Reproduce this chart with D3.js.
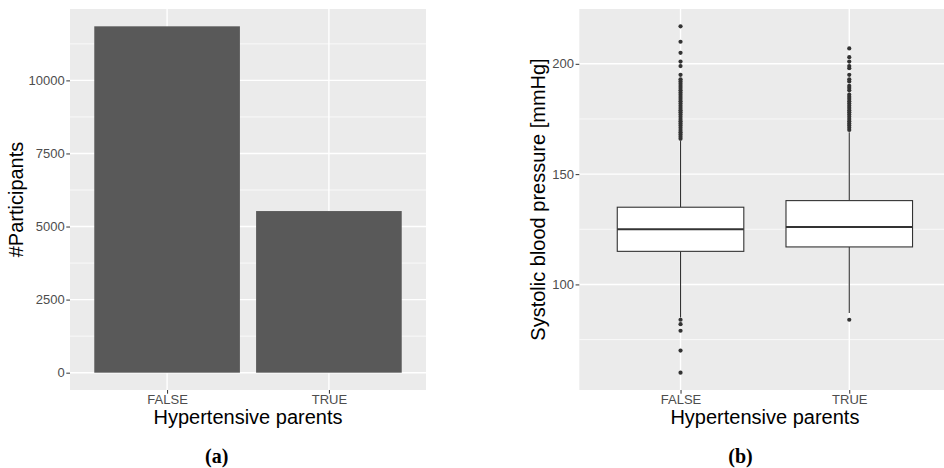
<!DOCTYPE html>
<html>
<head>
<meta charset="utf-8">
<script src="https://cdn.jsdelivr.net/npm/d3@7"></script>
<style>
  body { margin: 0; background: #fff; }
  svg { display: block; }
</style>
</head>
<body>
<svg id="fig" width="944" height="468"></svg>
<script>
// ---- data ----
const categories = ["FALSE", "TRUE"];
const participantCounts = [11850, 5530];
const countTicks = [0, 2500, 5000, 7500, 10000];

// box summaries: [lower whisker, Q1, median, Q3, upper whisker]
const boxFalse = [85, 115, 125, 135, 165];
const boxTrue = [87, 117, 126, 138, 169];
const outliersFalse = [60, 70, 79, 82, 84,
  166, 167, 168, 169, 170, 171, 172, 173, 174, 175, 176, 177, 178, 179, 180,
  181, 182, 183, 184, 185, 186, 187, 188, 189, 190, 191, 192, 193,
  195, 199, 201, 205, 210, 217];
const outliersTrue = [84,
  170, 171, 172, 173, 174, 175, 176, 177, 178, 179, 180, 181, 182, 183, 184,
  185, 186, 188, 189, 190, 192, 193, 195, 198, 199, 201, 203, 207];
const pressureTicks = [100, 150, 200];

const xTitle = "Hypertensive parents";

// ---- helpers ----
const svg = d3.select("#fig");
const FONT = "'Liberation Sans', Arial, Helvetica, sans-serif";
const expand = ([lo, hi]) => [lo - 0.05 * (hi - lo), hi + 0.05 * (hi - lo)];
const midpoints = t => t.slice(0, -1).map((v, i) => (v + t[i + 1]) / 2)
  .concat([t[0] - (t[1] - t[0]) / 2, t[t.length - 1] + (t[1] - t[0]) / 2]);

function panel(g, x0, x1, y0, y1, xScale, yScale, majors) {
  g.append("rect").attr("x", x0).attr("y", y0)
    .attr("width", x1 - x0).attr("height", y1 - y0).attr("fill", "#EBEBEB");
  const [d0, d1] = yScale.domain();
  const minors = midpoints(majors).filter(v => v > d0 && v < d1);
  g.selectAll(".minor").data(minors).join("line")
    .attr("x1", x0).attr("x2", x1)
    .attr("y1", d => yScale(d)).attr("y2", d => yScale(d))
    .attr("stroke", "#fff").attr("stroke-width", 0.7);
  g.selectAll(".major").data(majors).join("line")
    .attr("x1", x0).attr("x2", x1)
    .attr("y1", d => yScale(d)).attr("y2", d => yScale(d))
    .attr("stroke", "#fff").attr("stroke-width", 1.4);
  g.selectAll(".vmajor").data(categories).join("line")
    .attr("x1", d => xScale(d)).attr("x2", d => xScale(d))
    .attr("y1", y0).attr("y2", y1)
    .attr("stroke", "#fff").attr("stroke-width", 1.4);
}

function axes(g, x0, y1, xScale, yScale, ticks, yTitle, titleX, midY, midX) {
  const ya = g.append("g").attr("transform", `translate(${x0},0)`)
    .call(d3.axisLeft(yScale).tickValues(ticks).tickFormat(d3.format("d"))
      .tickSize(3.7).tickPadding(1.6));
  const xa = g.append("g").attr("transform", `translate(0,${y1})`)
    .call(d3.axisBottom(xScale).tickSize(3.7).tickPadding(1.4));
  [ya, xa].forEach(a => {
    a.select(".domain").remove();
    a.selectAll(".tick line").attr("stroke", "#333").attr("stroke-width", 1);
    a.selectAll(".tick text").attr("fill", "#4D4D4D")
      .style("font-family", FONT).style("font-size", "13px");
  });
  g.append("text")
    .attr("transform", `translate(${titleX},${midY}) rotate(-90)`)
    .attr("text-anchor", "middle").attr("fill", "#000")
    .style("font-family", FONT).style("font-size", "20px")
    .text(yTitle);
  g.append("text").attr("x", midX).attr("y", 423.5)
    .attr("text-anchor", "middle").attr("fill", "#000")
    .style("font-family", FONT).style("font-size", "20px")
    .text(xTitle);
}

// ---- (a) bar chart ----
const A = { x0: 70, x1: 426, y0: 9, y1: 390 };
const xA = d3.scalePoint().domain(categories).range([A.x0, A.x1]).padding(0.6);
const yA = d3.scaleLinear().domain(expand([0, d3.max(participantCounts)]))
  .range([A.y1, A.y0]);
const gA = svg.append("g");
panel(gA, A.x0, A.x1, A.y0, A.y1, xA, yA, countTicks);
const barW = xA.step() * 0.9;
gA.selectAll(".bar").data(categories).join("rect")
  .attr("x", d => xA(d) - barW / 2)
  .attr("width", barW)
  .attr("y", (d, i) => yA(participantCounts[i]))
  .attr("height", (d, i) => yA(0) - yA(participantCounts[i]))
  .attr("fill", "#595959");
axes(gA, A.x0, A.y1, xA, yA, countTicks, "#Participants", 22.8,
  (A.y0 + A.y1) / 2, (A.x0 + A.x1) / 2);

// ---- (b) box plot ----
const B = { x0: 579.3, x1: 950.5, y0: 9, y1: 390 };
const boxes = [
  { cat: "FALSE", s: boxFalse, out: outliersFalse },
  { cat: "TRUE", s: boxTrue, out: outliersTrue }
];
const allVals = boxes.flatMap(b => b.s.concat(b.out));
const xB = d3.scalePoint().domain(categories).range([B.x0, B.x1]).padding(0.6);
const yB = d3.scaleLinear().domain(expand(d3.extent(allVals))).range([B.y1, B.y0]);
const gB = svg.append("g");
panel(gB, B.x0, B.x1, B.y0, B.y1, xB, yB, pressureTicks);
const boxW = xB.step() * 0.75;
const bg = gB.selectAll(".box").data(boxes).join("g");
bg.append("line")
  .attr("x1", d => xB(d.cat)).attr("x2", d => xB(d.cat))
  .attr("y1", d => yB(d.s[0])).attr("y2", d => yB(d.s[1]))
  .attr("stroke", "#333").attr("stroke-width", 1.1);
bg.append("line")
  .attr("x1", d => xB(d.cat)).attr("x2", d => xB(d.cat))
  .attr("y1", d => yB(d.s[3])).attr("y2", d => yB(d.s[4]))
  .attr("stroke", "#333").attr("stroke-width", 1.1);
bg.append("rect")
  .attr("x", d => xB(d.cat) - boxW / 2).attr("width", boxW)
  .attr("y", d => yB(d.s[3])).attr("height", d => yB(d.s[1]) - yB(d.s[3]))
  .attr("fill", "#fff").attr("stroke", "#333").attr("stroke-width", 1.1);
bg.append("line")
  .attr("x1", d => xB(d.cat) - boxW / 2).attr("x2", d => xB(d.cat) + boxW / 2)
  .attr("y1", d => yB(d.s[2])).attr("y2", d => yB(d.s[2]))
  .attr("stroke", "#333").attr("stroke-width", 2);
bg.selectAll("circle").data(d => d.out.map(v => ({ cat: d.cat, v }))).join("circle")
  .attr("cx", d => xB(d.cat)).attr("cy", d => yB(d.v)).attr("r", 2.1)
  .attr("fill", "#333");
axes(gB, B.x0, B.y1, xB, yB, pressureTicks, "Systolic blood pressure [mmHg]", 544.5,
  (B.y0 + B.y1) / 2, (B.x0 + B.x1) / 2);

// ---- sub-figure captions ----
const SERIF = "'Liberation Serif', 'Times New Roman', Times, serif";
[["(a)", 216.7], ["(b)", 740.5]].forEach(([t, x]) => {
  svg.append("text").attr("x", x).attr("y", 463)
    .attr("text-anchor", "middle").attr("fill", "#000")
    .style("font-family", SERIF).style("font-size", "20px").style("font-weight", "bold")
    .text(t);
});
</script>
</body>
</html>
